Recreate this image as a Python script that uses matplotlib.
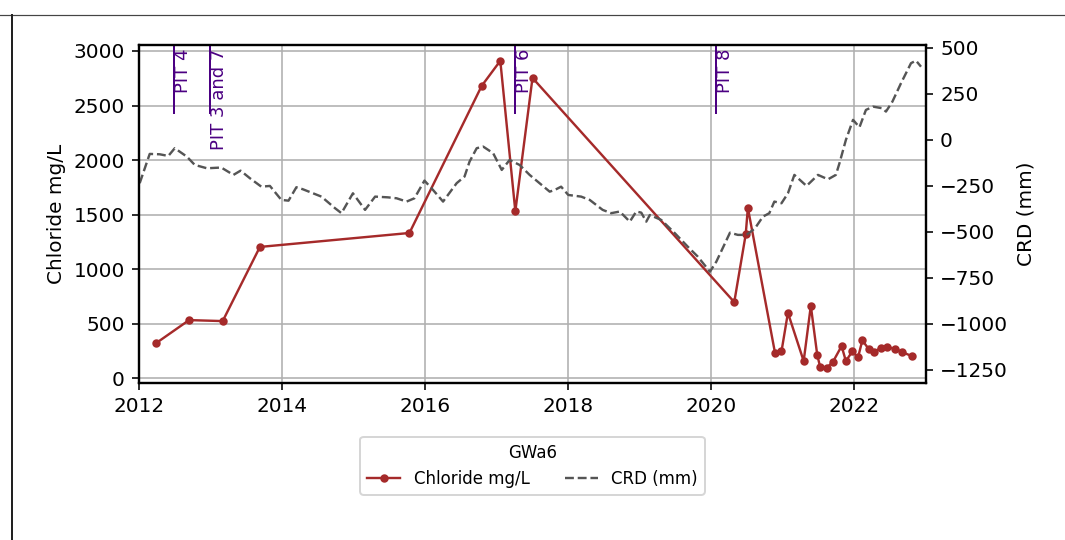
import numpy as np
import matplotlib
matplotlib.use("Agg")
import matplotlib.pyplot as plt
import matplotlib.transforms as mtransforms
from matplotlib.lines import Line2D

# Chloride samples (decimal year, mg/L)
chloride_years = [2012.24, 2012.70, 2013.17, 2013.69, 2015.78, 2016.79, 2017.05, 2017.26,
                  2017.50, 2020.32, 2020.48, 2020.51, 2020.89, 2020.98, 2021.07, 2021.29,
                  2021.39, 2021.48, 2021.52, 2021.61, 2021.70, 2021.82, 2021.88, 2021.97,
                  2022.05, 2022.11, 2022.20, 2022.27, 2022.37, 2022.46, 2022.57, 2022.66,
                  2022.80]
chloride_values = [321, 532, 523, 1203, 1331, 2680, 2910, 1530,
                   2753, 697, 1318, 1562, 229, 245, 599, 156,
                   663, 211, 104, 92, 150, 294, 156, 245,
                   190, 346, 266, 239, 278, 287, 266, 241,
                   202]

# Cumulative rainfall departure (decimal year, mm)
crd_years = [2012.01, 2012.15, 2012.29, 2012.41, 2012.50, 2012.67, 2012.78, 2012.95,
             2013.15, 2013.32, 2013.42, 2013.55, 2013.71, 2013.83, 2013.99, 2014.09,
             2014.20, 2014.29, 2014.55, 2014.74, 2014.83, 2014.99, 2015.16, 2015.30,
             2015.48, 2015.60, 2015.74, 2015.85, 2015.99, 2016.11, 2016.25, 2016.44,
             2016.55, 2016.62, 2016.72, 2016.81, 2016.95, 2017.07, 2017.18, 2017.32,
             2017.46, 2017.74, 2017.81, 2017.90, 2018.00, 2018.18, 2018.30, 2018.48,
             2018.60, 2018.72, 2018.86, 2018.95, 2019.02, 2019.09, 2019.14, 2019.30,
             2019.49, 2019.67, 2019.81, 2019.98, 2020.07, 2020.19, 2020.26, 2020.37,
             2020.49, 2020.61, 2020.72, 2020.81, 2020.88, 2020.98, 2021.07, 2021.16,
             2021.33, 2021.49, 2021.63, 2021.74, 2021.79, 2021.88, 2021.98, 2022.07,
             2022.16, 2022.26, 2022.39, 2022.44, 2022.53, 2022.65, 2022.79, 2022.86,
             2022.93]
crd_values = [-235, -76, -78, -87, -45, -91, -136, -154,
              -150, -190, -167, -208, -254, -250, -326, -330,
              -257, -268, -308, -371, -398, -290, -380, -308,
              -312, -317, -335, -317, -221, -272, -335, -235,
              -199, -118, -45, -36, -72, -163, -109, -136,
              -190, -281, -272, -254, -299, -308, -326, -380,
              -398, -389, -444, -389, -395, -444, -408, -435,
              -507, -580, -634, -716, -661, -562, -504, -516,
              -516, -480, -417, -398, -335, -344, -290, -190,
              -250, -190, -214, -190, -127, 0, 109, 69,
              163, 181, 172, 154, 208, 308, 417, 431,
              398]

# Pit events
pit_years = [2012.49, 2012.99, 2017.25, 2020.07]
pit_labels = ["PIT 4", "PIT 3 and 7", "PIT 6", "PIT 8"]

fig = plt.figure(figsize=(1065 / 144, 540 / 144), dpi=144)
ax = fig.add_axes([0.1305, 0.2907, 0.739, 0.626])

line1, = ax.plot(chloride_years, chloride_values, color="#a52a2a", marker="o",
                 markersize=3.2, linewidth=1.2, label="Chloride mg/L", zorder=3)
ax.set_ylabel("Chloride mg/L")
ax.set_ylim(-45, 3055)
ax.set_yticks([0, 500, 1000, 1500, 2000, 2500, 3000])
ax.set_xlim(2012, 2023)
ax.set_xticks([2012, 2014, 2016, 2018, 2020, 2022])
ax.grid(True, color="#b0b0b0", linewidth=0.8)

ax2 = ax.twinx()
line2, = ax2.plot(crd_years, crd_values, color="#555555", linestyle="--",
                  linewidth=1.2, label="CRD (mm)")
ax2.set_ylabel("CRD (mm)")
ax2.set_ylim(-1321, 516)
ax2.set_yticks([-1250, -1000, -750, -500, -250, 0, 250, 500])

# Pit markers
trans = mtransforms.blended_transform_factory(ax.transData, ax.transAxes)
for yr, lab in zip(pit_years, pit_labels):
    ax.axvline(yr, ymin=0.8, ymax=1.0, color="indigo", linewidth=1.0)
    ax.text(yr, 0.99, lab, transform=trans, rotation=90, va="top", ha="left",
            color="indigo", fontsize=9)

for a in (ax, ax2):
    for sp in a.spines.values():
        sp.set_linewidth(1.1)

ax.legend(handles=[line1, line2], title="GWa6", loc="upper center",
          bbox_to_anchor=(0.5, -0.135), ncol=2, fontsize="small",
          title_fontsize="small", columnspacing=2.1)

# notebook cell border
fig.add_artist(Line2D([0, 1], [1 - 15 / 540, 1 - 15 / 540], color="#444444",
                      linewidth=0.6, transform=fig.transFigure))
fig.add_artist(Line2D([12 / 1065, 12 / 1065], [0, 1 - 15 / 540], color="#222222",
                      linewidth=1.0, transform=fig.transFigure))

fig.savefig("out.png", dpi=144)
